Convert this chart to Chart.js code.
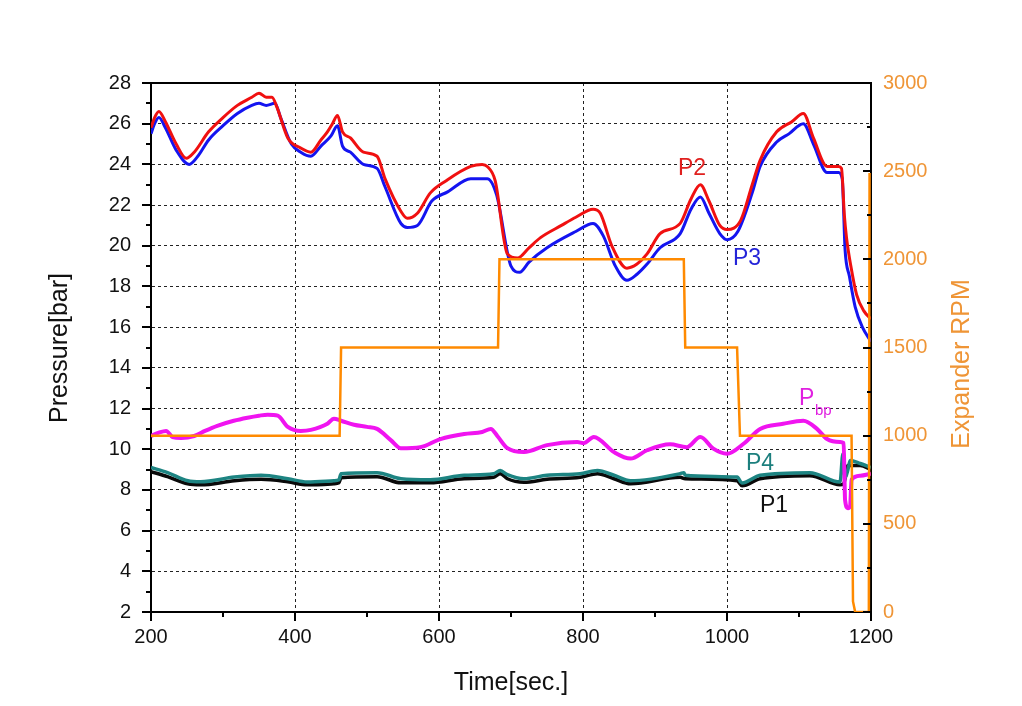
<!DOCTYPE html>
<html>
<head>
<meta charset="utf-8">
<title>Pressure and expander RPM</title>
<script src="https://cdn.jsdelivr.net/npm/chart.js@4.4.1/dist/chart.umd.min.js"></script>
<style>
  html, body { margin: 0; padding: 0; background: #fff; }
  canvas { display: block; }
</style>
</head>
<body>
<canvas id="chart" width="1022" height="706"></canvas>
<script>
// P2 (red)
const p2Time = [200, 205, 211, 220, 235, 249, 260, 280, 300, 320, 340, 350, 360, 368, 375, 390, 408, 422, 436, 445, 452, 459, 466, 477, 495, 514, 525, 547, 556, 570, 588, 610, 644, 660, 667, 678, 695, 709, 725, 741, 770, 790, 814, 824, 840, 861, 875, 889, 907, 935, 950, 963, 975, 990, 1000, 1019, 1035, 1046, 1069, 1090, 1106, 1120, 1139, 1155, 1159, 1163, 1166, 1172, 1180, 1190, 1200];
const p2Vals = [25.8, 26.3, 26.6, 26.1, 25.0, 24.3, 24.6, 25.6, 26.3, 26.9, 27.3, 27.5, 27.3, 27.3, 26.8, 25.3, 24.8, 24.6, 25.2, 25.6, 26.0, 26.4, 25.6, 25.3, 24.6, 24.4, 23.3, 21.7, 21.35, 21.6, 22.6, 23.2, 23.9, 24.0, 23.9, 23.2, 19.6, 19.4, 19.9, 20.4, 21.0, 21.4, 21.8, 21.6, 20.0, 18.9, 19.1, 19.6, 20.6, 21.1, 22.3, 23.0, 22.2, 21.0, 20.8, 21.25, 23.0, 24.2, 25.6, 26.1, 26.5, 25.3, 23.9, 23.9, 23.8, 21.5, 20.4, 19.0, 17.6, 16.8, 16.4];

// P3 (blue)
const p3Time = [200, 205, 211, 220, 235, 253, 265, 280, 300, 320, 340, 350, 360, 372, 380, 395, 408, 422, 436, 450, 459, 466, 477, 495, 514, 525, 547, 556, 570, 590, 612, 644, 667, 680, 700, 712, 725, 750, 790, 814, 828, 845, 861, 875, 889, 907, 935, 950, 963, 975, 990, 1000, 1015, 1035, 1046, 1069, 1086, 1106, 1120, 1139, 1155, 1160, 1164, 1170, 1178, 1188, 1200];
const p3Vals = [25.5, 26.0, 26.3, 25.8, 24.7, 24.0, 24.4, 25.2, 25.9, 26.5, 26.9, 27.0, 26.9, 27.0, 26.3, 25.0, 24.6, 24.4, 24.9, 25.4, 25.9, 24.9, 24.6, 24.0, 23.8, 22.9, 21.1, 20.9, 21.0, 22.2, 22.65, 23.3, 23.3, 22.5, 19.0, 18.7, 19.2, 19.9, 20.7, 21.1, 20.5, 19.0, 18.3, 18.6, 19.1, 19.9, 20.6, 21.8, 22.4, 21.6, 20.6, 20.3, 20.7, 22.6, 23.9, 25.1, 25.5, 26.0, 25.0, 23.6, 23.6, 23.3, 19.8, 18.5, 17.0, 16.0, 15.3];

// Pbp (magenta)
const pbpTime = [200, 210, 221, 230, 242, 260, 275, 292, 315, 334, 350, 362, 376, 390, 408, 422, 445, 454, 464, 482, 500, 514, 533, 547, 574, 602, 635, 660, 672, 681, 695, 718, 750, 792, 801, 815, 843, 866, 889, 921, 944, 963, 981, 1000, 1023, 1046, 1078, 1106, 1125, 1139, 1157, 1162, 1164, 1168, 1171, 1173, 1185, 1200];
const pbpVals = [10.65, 10.8, 10.9, 10.6, 10.55, 10.65, 10.9, 11.15, 11.4, 11.55, 11.65, 11.7, 11.65, 11.1, 10.9, 10.95, 11.25, 11.5, 11.4, 11.2, 11.1, 11.0, 10.45, 10.05, 10.1, 10.5, 10.75, 10.85, 11.0, 10.65, 10.05, 9.86, 10.2, 10.35, 10.3, 10.6, 9.86, 9.54, 9.95, 10.24, 10.1, 10.6, 10.03, 9.78, 10.27, 11.0, 11.25, 11.4, 11.0, 10.5, 10.35, 10.3, 7.5, 7.1, 7.2, 8.5, 8.7, 8.8];

// P4 (teal)
const p4Time = [200, 223, 251, 269, 316, 353, 390, 417, 454, 461, 464, 514, 547, 588, 635, 676, 685, 695, 718, 750, 796, 820, 843, 866, 935, 940, 942, 1014, 1021, 1046, 1115, 1157, 1161, 1164, 1168, 1171, 1185, 1200];
const p4Vals = [9.1, 8.85, 8.45, 8.4, 8.63, 8.72, 8.55, 8.39, 8.45, 8.5, 8.8, 8.85, 8.55, 8.5, 8.72, 8.8, 8.95, 8.75, 8.55, 8.72, 8.8, 8.95, 8.72, 8.45, 8.8, 8.85, 8.72, 8.63, 8.34, 8.72, 8.85, 8.39, 9.78, 8.6, 9.0, 9.45, 9.3, 9.1];

// P1 (black)
const p1Time = [200, 223, 251, 269, 316, 353, 390, 417, 454, 461, 464, 514, 547, 588, 635, 676, 685, 695, 718, 750, 796, 820, 843, 866, 935, 942, 1014, 1021, 1046, 1115, 1157, 1162, 1168, 1185, 1200];
const p1Vals = [8.9, 8.65, 8.3, 8.25, 8.45, 8.52, 8.4, 8.25, 8.3, 8.35, 8.6, 8.65, 8.35, 8.35, 8.55, 8.62, 8.8, 8.55, 8.38, 8.52, 8.62, 8.8, 8.55, 8.3, 8.62, 8.55, 8.45, 8.2, 8.55, 8.7, 8.25, 8.3, 9.2, 9.2, 9.0];

// Expander RPM (orange, right axis)
const rpmTime = [200, 462, 464, 682, 684, 940, 942, 1014, 1018, 1173, 1175, 1178, 1197, 1198];
const rpmVals = [1000, 1000, 1500, 1500, 2000, 2000, 1500, 1500, 1000, 1000, 60, 0, 0, 2490];

const xTicks = [200, 400, 600, 800, 1000, 1200];

const pts = (t, v) => t.map((x, i) => ({ x: x, y: v[i] }));
const FONT = "'Liberation Sans', Arial, sans-serif";
const ORANGE_TXT = "#ef9536";

function seg(ctx, x1, y1, x2, y2) {
  ctx.beginPath(); ctx.moveTo(x1, y1); ctx.lineTo(x2, y2); ctx.stroke();
}

// frame top, tick marks, axis titles, series labels
const decor = {
  id: "decor",
  afterDraw(chart) {
    const { ctx, chartArea: a, scales } = chart;
    const x = scales.x, y = scales.y, y1 = scales.y1;
    ctx.save();
    ctx.strokeStyle = "#000";
    ctx.lineWidth = 2;
    seg(ctx, a.left - 1, a.top, a.right + 1, a.top);
    for (let v = 2; v <= 28; v++) {
      const py = Math.round(y.getPixelForValue(v));
      seg(ctx, a.left - (v % 2 === 0 ? 9 : 5), py, a.left, py);
    }
    for (let v = 200; v <= 1200; v += 100) {
      const px = Math.round(x.getPixelForValue(v));
      seg(ctx, px, a.bottom, px, a.bottom + (v % 200 === 0 ? 9 : 5));
    }
    for (let v = 0; v <= 3000; v += 250) {
      const py = Math.round(y1.getPixelForValue(v));
      seg(ctx, a.right - (v % 500 === 0 ? 8 : 4), py, a.right, py);
    }

    ctx.textBaseline = "alphabetic";
    ctx.font = "25px " + FONT;
    ctx.fillStyle = "#111";
    ctx.textAlign = "center";
    ctx.fillText("Time[sec.]", 511, 690);
    ctx.save();
    ctx.translate(67, 348);
    ctx.rotate(-Math.PI / 2);
    ctx.fillText("Pressure[bar]", 0, 0);
    ctx.restore();
    ctx.save();
    ctx.fillStyle = ORANGE_TXT;
    ctx.translate(969, 364);
    ctx.rotate(-Math.PI / 2);
    ctx.fillText("Expander RPM", 0, 0);
    ctx.restore();

    ctx.textAlign = "left";
    ctx.font = "23px " + FONT;
    ctx.fillStyle = "#e0201e"; ctx.fillText("P2", 678, 175);
    ctx.fillStyle = "#2424d8"; ctx.fillText("P3", 733, 265);
    ctx.fillStyle = "#e020e0"; ctx.fillText("P", 799, 405);
    ctx.fillStyle = "#1c7f7d"; ctx.fillText("P4", 746, 470);
    ctx.fillStyle = "#111"; ctx.fillText("P1", 760, 512);
    ctx.font = "15px " + FONT;
    ctx.fillStyle = "#e020e0"; ctx.fillText("bp", 815, 415);
    ctx.restore();
  }
};

const dashGrid = (edgeA, edgeB) => ({
  color: c => (c.tick && (c.tick.value === edgeA || c.tick.value === edgeB)) ? "rgba(0,0,0,0)" : "#222",
  lineWidth: 1,
  drawTicks: false
});
const axisBorder = { display: true, color: "#000", width: 2, dash: [3, 3] };
const plainLabel = v => String(v);
const smooth = { cubicInterpolationMode: "monotone", yAxisID: "y" };

new Chart(document.getElementById("chart"), {
  type: "line",
  data: {
    datasets: [
      { label: "Expander RPM", data: pts(rpmTime, rpmVals), yAxisID: "y1", borderColor: "#ff8a00", borderWidth: 2.5 },
      { ...smooth, label: "P2", data: pts(p2Time, p2Vals), borderColor: "#f01010", borderWidth: 3 },
      { ...smooth, label: "P3", data: pts(p3Time, p3Vals), borderColor: "#1414f0", borderWidth: 3 },
      { ...smooth, label: "Pbp", data: pts(pbpTime, pbpVals), borderColor: "#f014f0", borderWidth: 4 },
      { ...smooth, label: "P4", data: pts(p4Time, p4Vals), borderColor: "#1d8482", borderWidth: 3.5 },
      { ...smooth, label: "P1", data: pts(p1Time, p1Vals), borderColor: "#0a0a0a", borderWidth: 3.5 }
    ]
  },
  options: {
    responsive: false,
    animation: false,
    events: [],
    elements: { point: { radius: 0 }, line: { tension: 0, fill: false } },
    layout: { padding: { top: 83, left: 0, right: 0, bottom: 0 } },
    plugins: { legend: { display: false }, tooltip: { enabled: false } },
    scales: {
      x: {
        type: "linear", min: 200, max: 1200,
        afterBuildTicks: s => { s.ticks = xTicks.map(v => ({ value: v })); },
        afterFit: s => { s.height = 94; },
        grid: dashGrid(200, 1200),
        border: axisBorder,
        ticks: { padding: 13, color: "#111", font: { family: FONT, size: 20 }, callback: plainLabel }
      },
      y: {
        type: "linear", position: "left", min: 2, max: 28,
        afterFit: s => { s.width = 151; },
        grid: dashGrid(2, 28),
        border: axisBorder,
        ticks: { stepSize: 2, padding: 20, color: "#111", font: { family: FONT, size: 20 }, callback: plainLabel }
      },
      y1: {
        type: "linear", position: "right", min: 0, max: 3000,
        afterFit: s => { s.width = 151; },
        grid: { drawOnChartArea: false, drawTicks: false },
        border: { display: true, color: "#000", width: 2 },
        ticks: { stepSize: 500, padding: 12, color: ORANGE_TXT, font: { family: FONT, size: 20 }, callback: plainLabel }
      }
    }
  },
  plugins: [decor]
});
</script>
</body>
</html>
